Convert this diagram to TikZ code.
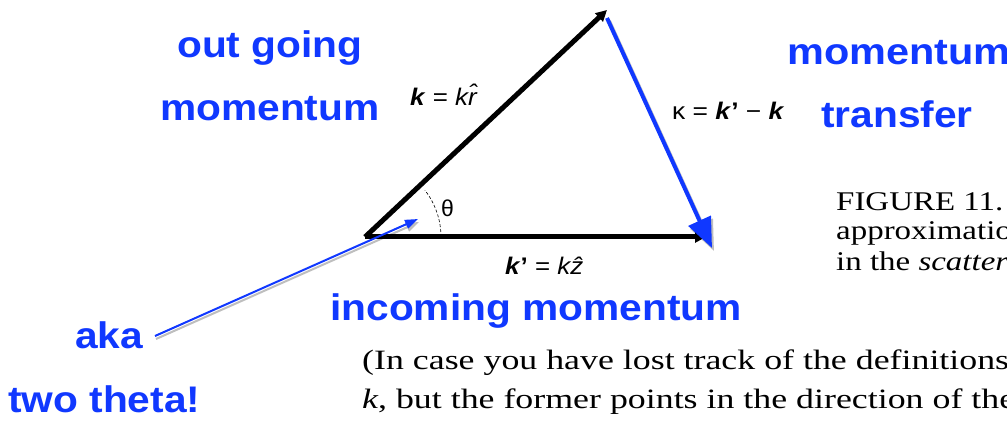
\documentclass[tikz,border=0pt]{standalone}
\usepackage{fontspec}
\setmainfont{Liberation Serif}
\newfontfamily\blfont{Liberation Sans}
\usetikzlibrary{arrows.meta}
\definecolor{ablue}{RGB}{16,56,255}
\definecolor{shadowgray}{RGB}{190,190,190}
\tikzset{
  bluelabel/.style={anchor=base west, inner sep=0pt, text=ablue, font=\blfont\bfseries\fontsize{37}{40}\selectfont},
  mathlabel/.style={anchor=base west, inner sep=0pt, font=\blfont\fontsize{24}{26}\selectfont},
  booktext/.style={anchor=base west, inner sep=0pt, font=\fontsize{28}{30}\selectfont},
  figtext/.style={anchor=base west, inner sep=0pt, font=\fontsize{27}{30}\selectfont},
  vecblack/.style={line width=5pt, -{Triangle[length=11pt,width=11pt]}},
  vecblue/.style={line width=4pt, draw=ablue, -{Triangle[length=30pt,width=24pt]}},
  pointer/.style={line width=2pt, draw=ablue, -{Triangle[length=13pt,width=9pt]}},
  shadow/.style={draw=shadowgray}
}
\begin{document}
\begin{tikzpicture}[x=1pt,y=-1pt]
\useasboundingbox (0,0) rectangle (1007,422);
\clip (0,0) rectangle (1007,422);
\fill[white] (0,0) rectangle (1007,422);
% vertices
\coordinate (O) at (365,237);
\coordinate (T) at (607,10);
\coordinate (R) at (706,237);
\coordinate (Ks) at (607,18);
\coordinate (Ke) at (712,248);
\coordinate (Ps) at (155,336);
\coordinate (Pe) at (418,219);
% shadows
\draw[shadow, line width=4pt, -{Triangle[length=30pt,width=24pt]}] ([shift={(2,3)}]Ks) -- ([shift={(2,3)}]Ke);
\draw[shadow, line width=2pt, -{Triangle[length=13pt,width=9pt]}] ([shift={(1,3)}]Ps) -- ([shift={(1,3)}]Pe);
% black vectors
\draw[vecblack] (O) -- (T);
\draw[vecblack] (O) -- (R);
% angle
\draw[densely dashed, line width=0.6pt] ([shift={(0:76)}]O) arc[start angle=0, end angle=-38, radius=76];
\node[anchor=base west, inner sep=0pt, font=\blfont\fontsize{23}{25}\selectfont] (theta) at (441,217) {θ};
% blue vectors
\draw[vecblue] (Ks) -- (Ke);
\draw[pointer] (Ps) -- (Pe);
% math labels
\node[mathlabel] (kr) at (410,106) {\scalebox{1.08}[1]{\textbf{\textit{k}} = \textit{k\^{r}}}};
\node[mathlabel] (kappa) at (672,120) {\scalebox{1.1}[1]{κ = \textbf{\textit{k}}\textbf{’} − \textbf{\textit{k}}}};
\node[mathlabel] (kz) at (505,274) {\scalebox{1.08}[1]{\textbf{\textit{k}}\textbf{’} = \textit{k\^{z}}}};
% blue labels
\node[bluelabel] (og) at (177,58) {\scalebox{1.1}[1]{out going}};
\node[bluelabel] (om) at (160,121) {\scalebox{1.1}[1]{momentum}};
\node[bluelabel] (tm) at (787,65) {\scalebox{1.12}[1]{momentum}};
\node[bluelabel] (tt) at (821,128) {\scalebox{1.1}[1]{transfer}};
\node[bluelabel] (inc) at (330,320) {\scalebox{1.1}[1]{incoming momentum}};
\node[bluelabel] (aka) at (75,348) {\scalebox{1.1}[1]{aka}};
\node[bluelabel] (two) at (8,412) {\scalebox{1.1}[1]{two theta!}};
% figure caption
\node[figtext] (f1) at (836,211) {\scalebox{1.22}[1]{FIGURE 11.}};
\node[figtext] (f2) at (836,240) {\scalebox{1.22}[1]{approximation}};
\node[figtext] (f3) at (836,270) {\scalebox{1.22}[1]{in the \textit{scattering}}};
% book text
\node[booktext] (b1) at (362,369) {\scalebox{1.28}[1]{(In case you have lost track of the definitions of}};
\node[booktext] (b2) at (362,408) {\scalebox{1.28}[1]{\textit{k}, but the former points in the direction of the}};
\end{tikzpicture}
\end{document}
